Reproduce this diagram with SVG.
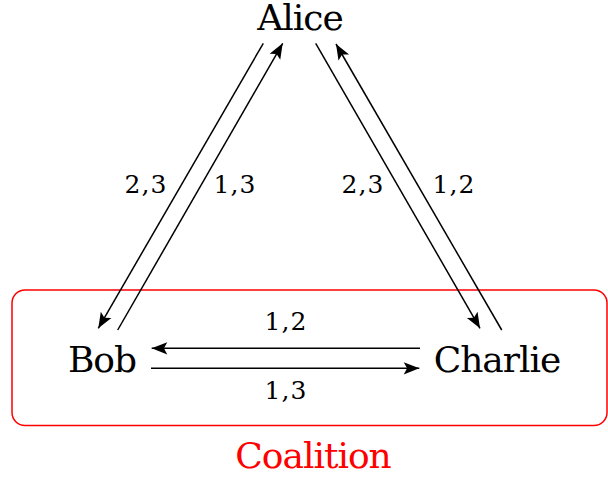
<svg xmlns="http://www.w3.org/2000/svg" width="608" height="479" viewBox="0 0 608 479">
<style>
text{font-family:'DejaVu Serif',serif}
.node{font-size:36px;fill:#000;text-anchor:middle;letter-spacing:-1px}
.lbl{font-size:25px;fill:#000;text-anchor:middle;letter-spacing:1px}
.edge{stroke:#000;stroke-width:1.5;fill:none}
.coal{fill:none;stroke:#ff0000;stroke-width:1.5}
</style>
<defs>
<marker id="arr" markerUnits="userSpaceOnUse" markerWidth="20" markerHeight="20" refX="0" refY="0" viewBox="-16 -8 18 16" orient="auto">
<path d="M0,0 L-14,-5.5 L-11,0 L-14,5.5 Z" fill="#000"/>
</marker>
</defs>
<g id="coalition">
<rect class="coal" x="12" y="290" width="595" height="135.5" rx="13" ry="13"/>
<text x="313" y="468" class="node" style="fill:#ff0000">Coalition</text>
</g>
<g id="alice"><text class="node" x="300" y="30">Alice</text></g>
<g id="bob"><text class="node" x="102" y="372">Bob</text></g>
<g id="charlie"><text class="node" x="497" y="372">Charlie</text></g>
<g id="connectors">
<line class="edge" x1="263.3" y1="43.3" x2="98.3" y2="328.3" marker-end="url(#arr)"/>
<line class="edge" x1="117.7" y1="330" x2="282.7" y2="43.3" marker-end="url(#arr)"/>
<line class="edge" x1="315.7" y1="43.3" x2="480" y2="328.3" marker-end="url(#arr)"/>
<line class="edge" x1="501.7" y1="330" x2="336" y2="44" marker-end="url(#arr)"/>
<line class="edge" x1="420" y1="348.3" x2="151.7" y2="348.3" marker-end="url(#arr)"/>
<line class="edge" x1="151" y1="368.3" x2="419.3" y2="368.3" marker-end="url(#arr)"/>
<text class="lbl" x="146" y="193">2,3</text>
<text class="lbl" x="235" y="193">1,3</text>
<text class="lbl" x="363" y="193">2,3</text>
<text class="lbl" x="454" y="193">1,2</text>
<text class="lbl" x="286" y="330">1,2</text>
<text class="lbl" x="286" y="399">1,3</text>
</g>
</svg>
